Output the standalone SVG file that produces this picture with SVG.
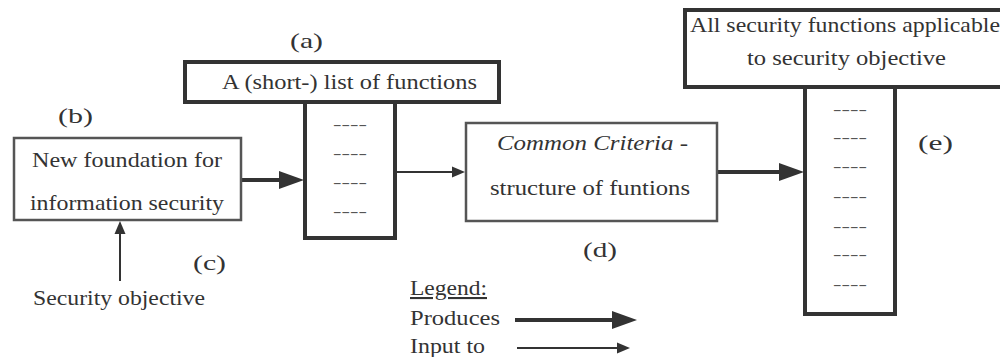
<svg xmlns="http://www.w3.org/2000/svg" width="1000" height="357" viewBox="0 0 1000 357">
<style>
text{font-family:"Liberation Serif","Times New Roman",serif;font-size:21px;fill:#333}
.dash{font-size:14px;fill:#555}
.hb{fill:#fff;stroke:#333;stroke-width:4}
.lb{fill:#fff;stroke:#555;stroke-width:2.5}
.thick{stroke:#333;stroke-width:4;fill:none}
.thin{stroke:#333;stroke-width:2;fill:none}
</style>
<defs>
<marker id="hT" markerUnits="userSpaceOnUse" markerWidth="26" markerHeight="20" refX="0" refY="10" orient="auto" viewBox="0 0 26 20"><path d="M0,1 L25,10 L0,19 z" fill="#333"/></marker>
<marker id="ht" markerUnits="userSpaceOnUse" markerWidth="14" markerHeight="12" refX="0" refY="6" orient="auto" viewBox="0 0 14 12"><path d="M0,0.5 L13,6 L0,11.5 z" fill="#333"/></marker>
</defs>
<rect width="1000" height="357" fill="#fff"/>
<g id="connectors">
<line class="thick" x1="241" y1="180" x2="279" y2="180" marker-end="url(#hT)"/>
<line class="thin" x1="397" y1="172" x2="452" y2="172" marker-end="url(#ht)"/>
<line class="thick" x1="718" y1="172" x2="779" y2="172" marker-end="url(#hT)"/>
<line class="thin" x1="120" y1="281" x2="120" y2="234" marker-end="url(#ht)"/>
</g>
<g id="node-a">
<text x="290" y="48" textLength="33" lengthAdjust="spacingAndGlyphs">(a)</text>
<rect class="hb" x="185" y="62" width="314" height="40"/>
<text x="222" y="89" textLength="255" lengthAdjust="spacingAndGlyphs">A (short-) list of functions</text>
<rect class="hb" x="305" y="102" width="90" height="136"/>
<text class="dash" x="333" y="128.5" textLength="34" lengthAdjust="spacingAndGlyphs">----</text>
<text class="dash" x="333" y="157.5" textLength="34" lengthAdjust="spacingAndGlyphs">----</text>
<text class="dash" x="333" y="186.5" textLength="34" lengthAdjust="spacingAndGlyphs">----</text>
<text class="dash" x="333" y="215.5" textLength="34" lengthAdjust="spacingAndGlyphs">----</text>
</g>
<g id="node-b">
<text x="58" y="123" textLength="35" lengthAdjust="spacingAndGlyphs">(b)</text>
<rect class="lb" x="14" y="138" width="227" height="82"/>
<text x="32" y="167" textLength="190" lengthAdjust="spacingAndGlyphs">New foundation for</text>
<text x="30" y="210" textLength="194" lengthAdjust="spacingAndGlyphs">information security</text>
</g>
<g id="node-c">
<text x="193" y="270" textLength="33" lengthAdjust="spacingAndGlyphs">(c)</text>
<text x="33" y="305" textLength="172" lengthAdjust="spacingAndGlyphs">Security objective</text>
</g>
<g id="node-d">
<rect class="lb" x="466" y="123" width="251" height="98"/>
<text x="497" y="150" font-style="italic" textLength="191" lengthAdjust="spacingAndGlyphs">Common Criteria -</text>
<text x="490" y="195" textLength="200" lengthAdjust="spacingAndGlyphs">structure of funtions</text>
<text x="583" y="257" textLength="34" lengthAdjust="spacingAndGlyphs">(d)</text>
</g>
<g id="node-e">
<rect class="hb" x="685" y="10" width="320" height="77"/>
<text x="690" y="32" textLength="310" lengthAdjust="spacingAndGlyphs">All security functions applicable</text>
<text x="747" y="65" textLength="199" lengthAdjust="spacingAndGlyphs">to security objective</text>
<rect class="hb" x="805" y="87" width="90" height="227"/>
<text class="dash" x="833" y="113.5" textLength="34" lengthAdjust="spacingAndGlyphs">----</text>
<text class="dash" x="833" y="141.5" textLength="34" lengthAdjust="spacingAndGlyphs">----</text>
<text class="dash" x="833" y="170.5" textLength="34" lengthAdjust="spacingAndGlyphs">----</text>
<text class="dash" x="833" y="200.5" textLength="34" lengthAdjust="spacingAndGlyphs">----</text>
<text class="dash" x="833" y="230.5" textLength="34" lengthAdjust="spacingAndGlyphs">----</text>
<text class="dash" x="833" y="258.5" textLength="34" lengthAdjust="spacingAndGlyphs">----</text>
<text class="dash" x="833" y="288.5" textLength="34" lengthAdjust="spacingAndGlyphs">----</text>
<text x="918" y="150" textLength="35" lengthAdjust="spacingAndGlyphs">(e)</text>
</g>
<g id="legend">
<text x="410" y="295" text-decoration="underline" textLength="77" lengthAdjust="spacingAndGlyphs">Legend:</text>
<text x="410" y="325" textLength="90" lengthAdjust="spacingAndGlyphs">Produces</text>
<text x="410" y="353" textLength="75" lengthAdjust="spacingAndGlyphs">Input to</text>
<line class="thick" x1="515" y1="320" x2="612" y2="320" marker-end="url(#hT)"/>
<line class="thin" x1="517" y1="348" x2="617" y2="348" marker-end="url(#ht)"/>
</g>
</svg>
